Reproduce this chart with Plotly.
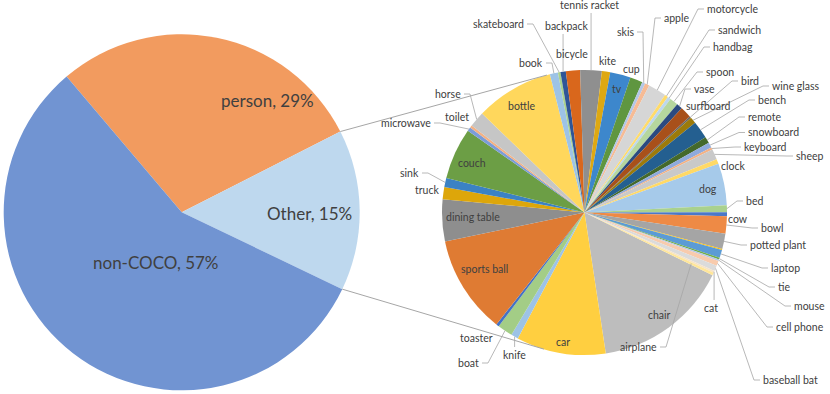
import math
import plotly.graph_objects as go

W, H = 830, 394

# main pie: share of annotated objects
main_labels = ['person', 'Other', 'non-COCO']
main_values = [28.7, 14.6, 56.7]
main_colors = ['#F29B5F', '#BED8EE', '#7194D2']

# secondary pie: breakdown of "Other" (share in %), clockwise starting with chair
other_labels = [
    'chair', 'car', 'knife', 'boat', 'toaster', 'sports ball', 'dining table', 'truck',
    'sink', 'couch', 'microwave', 'toilet', 'horse', 'bottle', 'book', 'skateboard',
    'backpack', 'bicycle', 'tennis racket', 'kite', 'tv', 'cup', 'skis', 'apple',
    'motorcycle', 'sandwich', 'handbag', 'spoon', 'vase', 'surfboard', 'bird', 'wine glass',
    'bench', 'remote', 'snowboard', 'keyboard', 'sheep', 'clock', 'dog', 'bed',
    'cow', 'bowl', 'potted plant', '', 'laptop', 'tie', 'mouse', 'cell phone',
    'baseball bat', 'cat', 'airplane',
]
other_values = [
    15.36, 10.14, 0.81, 1.72, 0.33, 11.11, 4.75, 1.39,
    1.03, 5.83, 0.44, 0.28, 1.78, 8.86, 0.92, 0.28,
    0.61, 1.61, 2.44, 0.94, 2.33, 1.42, 0.36, 0.50,
    2.06, 0.39, 0.36, 0.97, 0.67, 1.28, 0.19, 0.72,
    2.00, 0.72, 0.58, 0.28, 1.17, 0.56, 4.72, 0.78,
    0.47, 1.94, 1.75, 0.11, 0.92, 0.19, 0.19, 0.58,
    0.61, 0.22, 0.31,
]
other_colors = [
    '#BDBDBD', '#FFCF40', '#9DC3E6', '#A3CD86', '#4472C4', '#DF7B33', '#8E8E8E', '#DDA60A',
    '#3B82C4', '#6C9E45', '#7B9CD8', '#F4B183', '#C6C6C6', '#FFD75C', '#9DC3E6', '#A9D18E',
    '#2F5597', '#D9671C', '#8F8F8F', '#DEA812', '#3D87CC', '#5F9640', '#B4C7E7', '#F6BB95',
    '#D6D6D6', '#FFDB6A', '#BDD7EE', '#B5D69E', '#2A4A80', '#A8501A', '#666666', '#9C7A0A',
    '#245F90', '#44692C', '#8FAADC', '#F4B183', '#C9C9C9', '#FFD966', '#A6CAEA', '#A9D18E',
    '#4A78C8', '#EE8A45', '#A5A5A5', '#FFC000', '#5B9BD5', '#70AD47', '#B4C7E7', '#F8CBAD',
    '#DBDBDB', '#F6E3C8', '#FFE699',
]

# pie geometry (pixels) and start angles
C1, R1, ROT1 = (181.7, 212.3), 178.0, -40.3
C2, R2, ROT2 = (584.5, 212.5), 142.5, 116.1

# label placement: (x, y, mode)
# L: text starts at x, leader from left; R: text ends at x, leader from right
# B: text bottom at y, leader down; T: text top at y, leader up; C: centred, no leader
label_pos = {
    'tennis racket': (589, 12, 'B'), 'backpack': (567, 33, 'B'), 'skateboard': (525, 24, 'R'),
    'book': (544, 63, 'R'), 'bicycle': (572, 54, 'C'), 'kite': (608, 61, 'C'),
    'cup': (631.5, 68.5, 'C'), 'skis': (635, 32, 'R'), 'apple': (663, 18, 'L'),
    'motorcycle': (706, 9, 'L'), 'sandwich': (717, 30, 'L'), 'handbag': (712, 47, 'L'),
    'spoon': (705, 72, 'L'), 'vase': (693, 89, 'L'), 'surfboard': (708.5, 106, 'C'),
    'bird': (740, 81, 'L'), 'wine glass': (771, 86, 'L'), 'bench': (757, 100, 'L'),
    'remote': (747, 117, 'L'), 'snowboard': (747, 132.5, 'L'), 'keyboard': (743, 147, 'L'),
    'sheep': (795, 156, 'L'), 'clock': (732.5, 166, 'C'), 'bed': (745, 201, 'L'),
    'cow': (738, 219, 'C'), 'bowl': (760, 228, 'L'), 'potted plant': (749, 245, 'L'),
    'laptop': (770, 268, 'L'), 'tie': (777, 287, 'L'), 'mouse': (793, 306, 'L'),
    'cell phone': (775, 327, 'L'), 'baseball bat': (762, 380, 'L'), 'cat': (711, 301, 'T'),
    'airplane': (658, 347, 'R'), 'knife': (514, 348, 'T'), 'boat': (480, 363, 'R'),
    'toaster': (476, 338, 'C'), 'truck': (426.5, 190, 'C'), 'sink': (420, 173, 'R'),
    'microwave': (432, 123, 'R'), 'toilet': (457, 117, 'C'), 'horse': (462, 94, 'R'),
    'bottle': (521, 106, 'C'), 'couch': (472, 163, 'C'), 'dining table': (473, 217, 'C'),
    'sports ball': (484, 269, 'C'), 'car': (563, 342, 'C'), 'chair': (659, 315, 'C'),
    'dog': (708, 189, 'C'), 'tv': (616.5, 88.5, 'C'),
}
leader_r = {'airplane': 0.83}

main_text_pos = {'person': (219, 88), 'Other': (309.5, 213), 'non-COCO': (91, 262)}

TEXT = '#404040'
LINE = '#A6A6A6'
FONT = 'Lato'


def px(x, y):
    return x / W, 1 - y / H


def domain(c, r):
    return dict(x=[(c[0] - r) / W, (c[0] + r) / W], y=[1 - (c[1] + r) / H, 1 - (c[1] - r) / H])


def on_circle(c, r, ang):
    a = math.radians(ang)
    return c[0] + r * math.sin(a), c[1] - r * math.cos(a)


def slice_angles(values, rot):
    total = sum(values)
    out, a = [], rot
    for v in values:
        span = 360 * v / total
        out.append((a, a + span))
        a += span
    return out


def tangent_point(p, c, r, upper):
    dx, dy = p[0] - c[0], p[1] - c[1]
    d = math.hypot(dx, dy)
    base = math.atan2(dy, dx)
    alpha = math.acos(r / d)
    cands = [(c[0] + r * math.cos(base + s * alpha), c[1] + r * math.sin(base + s * alpha)) for s in (1, -1)]
    return min(cands, key=lambda t: t[1]) if upper else max(cands, key=lambda t: t[1])


fig = go.Figure()
fig.add_trace(go.Pie(
    labels=main_labels, values=main_values, sort=False, direction='clockwise', rotation=ROT1,
    marker=dict(colors=main_colors, line=dict(width=0)), textinfo='none',
    domain=domain(C1, R1), showlegend=False, hoverinfo='label+percent',
))
fig.add_trace(go.Pie(
    values=other_values, text=other_labels, sort=False, direction='clockwise', rotation=ROT2,
    marker=dict(colors=other_colors, line=dict(width=0)), textinfo='none',
    domain=domain(C2, R2), showlegend=False, hoverinfo='text+percent',
))

annotations = []
shapes = []

# main pie labels
total_main = sum(main_values)
for name, v in zip(main_labels, main_values):
    x, y = main_text_pos[name]
    ax, ay = px(x, y)
    annotations.append(dict(x=ax, y=ay, xref='paper', yref='paper', showarrow=False,
                            text=f'{name}, {round(100 * v / total_main)}%',
                            font=dict(family=FONT, size=17, color=TEXT)))

# connector lines between the two pies
main_ang = slice_angles(main_values, ROT1)
a_start, a_end = main_ang[main_labels.index('Other')]
for ang, upper in ((a_start, True), (a_end, False)):
    p = on_circle(C1, R1, ang)
    t = tangent_point(p, C2, R2, upper)
    x0, y0 = px(*p)
    x1, y1 = px(*t)
    shapes.append(dict(type='line', xref='paper', yref='paper', x0=x0, y0=y0, x1=x1, y1=y1,
                       line=dict(color=LINE, width=1)))

# secondary pie labels with leader lines
other_ang = slice_angles(other_values, ROT2)
for name, (a0, a1) in zip(other_labels, other_ang):
    if not name:
        continue
    x, y, mode = label_pos[name]
    anchor = {'L': ('left', 'middle'), 'R': ('right', 'middle'), 'B': ('center', 'bottom'),
              'T': ('center', 'top'), 'C': ('center', 'middle')}[mode]
    ax, ay = px(x, y)
    annotations.append(dict(x=ax, y=ay, xref='paper', yref='paper', showarrow=False, text=name,
                            xanchor=anchor[0], yanchor=anchor[1], borderpad=0,
                            font=dict(family=FONT, size=10.5, color=TEXT)))
    if mode == 'C':
        continue
    ex, ey = on_circle(C2, R2 * leader_r.get(name, 1.0), (a0 + a1) / 2)
    if mode == 'L':
        pts = [(x - 2, y), (x - 8, y), (ex, ey)]
    elif mode == 'R':
        pts = [(x + 2, y), (x + 8, y), (ex, ey)]
    else:
        half = len(name) * 2.5
        sx = min(max(ex, x - half), x + half)
        sy = y + 1 if mode == 'B' else y - 1
        pts = [(sx, sy), (ex, ey)]
    path = 'M ' + ' L '.join('{:.5f} {:.5f}'.format(*px(*q)) for q in pts)
    shapes.append(dict(type='path', xref='paper', yref='paper', path=path,
                       line=dict(color=LINE, width=0.8), layer='above'))

fig.update_layout(
    width=W, height=H, margin=dict(l=0, r=0, t=0, b=0),
    paper_bgcolor='white', plot_bgcolor='white',
    annotations=annotations, shapes=shapes,
    font=dict(family=FONT, color=TEXT),
)

# the page body has a default 8px margin; drop it so the chart sits at the window origin
fig.write_html('out.html', config={'displayModeBar': False},
               post_script="document.body.style.margin='0px';")
